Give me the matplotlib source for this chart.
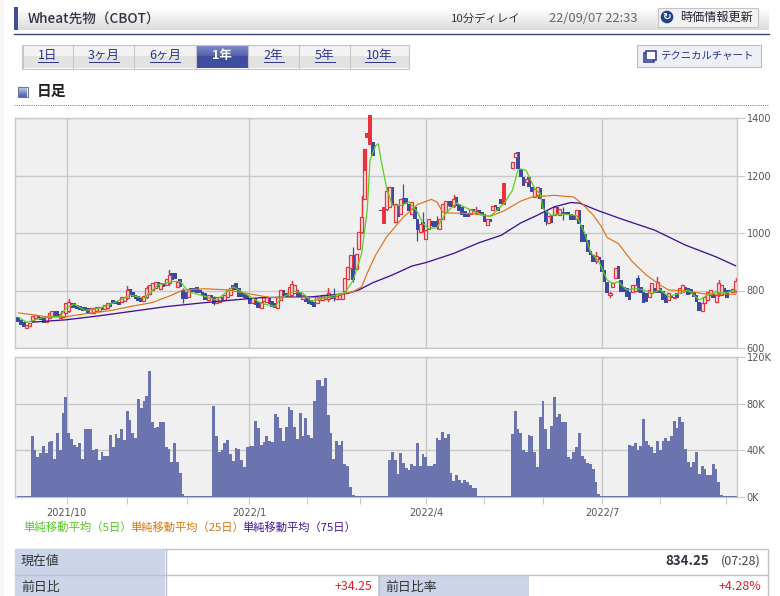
import numpy as np
import matplotlib
matplotlib.use('Agg')
import matplotlib.pyplot as plt
from matplotlib.patches import Rectangle, Circle
from matplotlib.colors import LinearSegmentedColormap

plt.rcParams['font.family'] = ['Noto Sans CJK JP', 'DejaVu Sans']

nan = float('nan')

##### candle data #####
opens = [707,698,692,669,677,695,704,712,707,704,
         689,706,712,727,727,706,709,721,730,758,
         756,750,746,744,741,738,721,723,727,730,
         744,735,738,756,767,765,761,761,765,773,
         804,796,784,781,776,765,779,788,802,807,
         831,804,825,819,825,860,862,813,839,802,
         796,776,807,807,811,802,796,790,767,784,
         776,756,761,776,767,779,784,819,825,807,
         796,790,784,773,756,773,761,738,762,761,
         773,763,755,738,767,801,790,782,784,790,
         801,796,772,778,773,767,761,755,767,767,
         772,770,786,786,772,772,772,800,841,878,
         922,876,945,1005,1118,1332,1305,1317,1200,nan,
         1079,1032,1085,1089,1159,1037,1095,1066,1121,1121,
         1101,1066,1089,1049,1003,1037,980,1014,1043,1043,
         1043,1014,1049,1072,1113,1113,1095,1124,1101,1089,
         1078,1066,1066,1084,1070,1081,1072,1066,1028,1049,
         1081,1098,1089,1118,1098,nan,nan,1225,1264,1281,
         1221,1194,1177,1194,1160,1125,1131,1156,1119,1079,
         1036,1064,1061,1090,1061,1073,1073,1073,1067,1061,
         1048,1079,1027,998,975,937,923,902,917,906,
         871,830,784,813,842,886,836,813,807,796,
         796,799,842,813,796,790,779,790,807,802,
         807,798,784,767,784,773,790,790,794,813,
         807,804,794,784,761,727,755,767,784,787,
         761,790,784,807,802,802,796,798]
closes = [692,680,672,680,686,712,715,700,698,686,
          712,721,727,709,707,719,730,756,761,738,
          738,735,732,730,727,719,738,738,742,742,
          732,750,756,744,753,753,750,779,779,802,
          784,779,769,765,761,781,807,819,827,831,
          813,827,813,839,854,836,839,831,813,769,
          769,804,796,796,790,790,781,767,784,773,
          753,776,779,765,784,802,807,802,802,779,
          776,773,769,753,773,750,738,761,778,778,
          752,744,738,778,801,778,778,813,821,819,
          778,775,786,759,752,749,744,778,778,784,
          784,790,772,770,782,784,790,845,881,924,
          835,928,1003,1057,1291,1349,1412,1268,1197,nan,
          1077,1089,1145,1159,1095,1101,1055,1118,1101,1101,
          1078,1107,1049,1009,1032,1009,1009,1047,1026,1020,
          1020,1049,1101,1113,1095,1089,1118,1095,1078,1061,
          1055,1055,1084,1072,1078,1070,1063,1037,1049,1037,
          1095,1090,1076,1101,1175,nan,nan,1246,1278,1223,
          1194,1165,1188,1160,1142,1154,1160,1119,1085,1038,
          1059,1036,1090,1064,1085,1067,1067,1061,1044,1044,
          1079,1033,969,969,934,923,900,920,906,865,
          830,790,792,827,879,840,796,796,779,767,
          819,819,802,790,755,761,802,825,790,831,
          790,767,755,790,773,779,775,807,819,794,
          784,787,779,761,727,755,779,796,802,775,
          784,825,819,796,773,794,805,834]
# only the wicks that are visible
wick_i  = [18,39,46,54,59,70,98,111,113,120,123,132,138,143,145,150,156,164,189,195,207,212,222,229,251,257]
wick_hi = [772,815,815,870,810,780,833,808,808,951,1130,1160,1170,1050,1072,1058,1132,1090,1080,1090,934,795,855,848,838,842]
wick_lo = [725,770,775,820,755,748,780,762,762,830,1000,1080,1098,971,1005,1015,1090,1065,1027,1044,895,778,795,795,782,796]
solid_red = [125,126,131,174]
# bar 124 is filled only in its upper part
fill_124 = [1215,1291]

##### moving averages (bar number, value) #####
ma5_x = [0,3,6,9,15,17,20,24,29,34,40,45,50,55,58,61,67,71,77,79,87,92,94,99,102,105,109,116,117,120,123,125,126,128,129,130,132,134,137,140,143,145,147,150,153,157,161,165,169,174,177,179,180,182,185,187,188,191,194,200,203,205,208,211,213,215,218,221,224,227,230,233,237,240,244,247,250,253,257]
ma5_y = [707,689,698,707,709,738,753,730,738,756,784,773,819,831,831,796,779,767,813,802,756,744,773,798,790,763,773,790,793,836,929,1079,1252,1304,1310,1252,1154,1096,1096,1108,1073,1033,1015,1019,1067,1104,1085,1067,1058,1102,1148,1218,1223,1217,1154,1137,1085,1061,1067,1061,998,934,900,836,825,830,802,807,802,790,802,779,790,802,767,784,796,790,802]
ma25_x = [0,5,11,17,24,33,41,48,55,59,67,75,82,90,102,113,116,120,123,125,128,132,138,143,148,150,152,154,163,169,174,180,184,192,199,202,206,209,211,215,220,225,230,233,239,246,257]
ma25_y = [722,716,707,709,719,730,746,758,784,802,806,802,790,776,776,775,788,796,813,860,923,987,1056,1099,1117,1108,1073,1070,1067,1058,1077,1111,1125,1131,1125,1102,1062,1021,984,963,900,854,819,802,799,788,787]
ma75_x = [5,17,29,41,53,65,77,87,105,118,122,127,134,141,146,156,165,173,180,186,192,198,201,208,216,228,239,250,257]
ma75_y = [690,698,712,728,744,756,767,775,778,790,802,827,854,885,897,929,966,992,1035,1062,1091,1106,1104,1077,1049,1010,958,917,886]

##### volume in thousands #####
volume = [.6,.6,.6,.6,.6,
          52,40,34,38,44,38,47,48,33,55,40,72,86,55,50,45,43,46,33,58,58,58,40,41,32,39,35,35,53,43,54,51,58,49,74,66,55,51,84,76,82,87,108,64,59,60,64,64,43,41,30,46,30,21,3,
          .6,.6,.6,.6,.6,.6,.6,.6,.6,.6,
          78,52,39,40,46,49,37,31,42,41,32,26,43,44,44,65,59,45,47,52,48,47,71,69,59,48,60,77,75,60,50,72,52,68,53,51,82,100,100,95,102,70,55,33,48,45,48,28,27,9,2,1,
          .6,.6,.6,.6,.6,.6,.6,.6,.6,.6,.6,
          32,39,32,20,38,29,25,23,28,27,46,27,37,34,27,27,28,51,49,56,51,54,21,14,19,15,12,15,13,10,8,8,
          .6,.6,.6,.6,.6,.6,.6,.6,.6,.6,.6,.6,
          54,74,58,55,40,39,53,52,39,26,69,82,58,41,61,86,69,71,64,64,34,33,39,43,55,35,33,29,28,24,13,3,
          .6,.6,.6,.6,.6,.6,.6,.6,.6,.6,
          45,44,46,40,44,67,48,45,43,38,48,40,48,51,48,52,65,59,69,64,41,30,26,30,39,20,27,24,19,19,28,24,13,2,
          1,1,1,1,1]

date_ticks = [17.3,82.8,146.1,209.2]
date_labels = ['2021/10','2022/1','2022/4','2022/7']
minor_ticks = [38.8,60.3,103.3,122.5,166.7,187.9,229.8,253.5]
price_ticks = [600,800,1000,1200,1400]
vol_ticks = [0,40,80,120]
vol_labels = ['0K','40K','80K','120K']

tabs = ['1日','3ヶ月','6ヶ月','1年','2年','5年','10年']
tab_edges = [22,73,134,196,248,299,350,409]

opens = np.array(opens, dtype=float)
closes = np.array(closes, dtype=float)
x = np.arange(len(opens))

W, H = 780, 596
fig = plt.figure(figsize=(W/100, H/100), dpi=100, facecolor='white')

# page furniture drawn in pixel coords
bg = fig.add_axes([0, 0, 1, 1])
bg.set_xlim(0, W)
bg.set_ylim(H, 0)
bg.axis('off')

def grad(x0, x1, y0, y1, c0, c1):
    cm = LinearSegmentedColormap.from_list('g', [c0, c1])
    bg.imshow(np.linspace(0, 1, 32).reshape(-1, 1), cmap=cm, extent=[x0, x1, y1, y0], aspect='auto', zorder=1)
    bg.set_xlim(0, W)
    bg.set_ylim(H, 0)

def box(x0, y0, x1, y1, fc='none', ec='none', lw=1, z=2):
    bg.add_patch(Rectangle((x0, y0), x1-x0, y1-y0, fc=fc, ec=ec, lw=lw, zorder=z))

box(0, 0, 4, H, fc='#f7f7f7', z=0)

# header
grad(18, 769, 8, 30, '#ffffff', '#dcdcdc')
box(14, 7, 18, 30, fc='#3f4d9e')
bg.plot([14, 769], [33.5, 33.5], color='#3b4674', lw=1, zorder=3)
bg.text(28, 20, 'Wheat先物（CBOT）', fontsize=9.8, color='#333344', va='center', fontweight='medium', zorder=4)
bg.text(451, 19, '10分ディレイ', fontsize=8.2, color='#333333', va='center', zorder=4)
bg.text(549, 19, '22/09/07 22:33', fontsize=9.3, color='#666666', va='center', zorder=4)
box(657.5, 7.5, 758, 27, fc='#f2f2f2', ec='#c4c4c4', lw=0.8, z=3)
bg.add_patch(Circle((667, 17), 6.3, fc='#23408e', ec='none', zorder=4))
bg.text(667, 16.6, '↻', fontsize=7.5, color='white', ha='center', va='center', family='DejaVu Sans', fontweight='bold', zorder=5)
bg.text(680, 17.5, '時価情報更新', fontsize=8.7, color='#222233', va='center', zorder=4)

# period tabs
for i, t in enumerate(tabs):
    x0, x1 = tab_edges[i], tab_edges[i+1]
    if t == '1年':
        grad(x0, x1, 45, 56, '#7f8cc8', '#5562ac')
        box(x0, 56, x1, 68, fc='#3f4d9e')
        bg.text((x0+x1)/2, 55, t, fontsize=9, color='white', ha='center', va='center', fontweight='bold', zorder=4)
    else:
        box(x0, 45, x1, 56, fc='#f2f2f2')
        box(x0, 56, x1, 68, fc='#e2e2e2')
        tx = bg.text((x0+x1)/2, 55, t, fontsize=9, color='#2b3390', ha='center', va='center', zorder=4)
        wd = 10*len(t) if t != '3ヶ月' and t != '6ヶ月' else 30
        bg.plot([(x0+x1)/2-wd/2, (x0+x1)/2+wd/2], [61.5, 61.5], color='#2b3390', lw=0.7, zorder=4)
    bg.plot([x0, x0], [44.5, 68.5], color='#c6c6c6', lw=0.8, zorder=3)
box(22.5, 44.5, 409, 68.5, ec='#c6c6c6', lw=0.8, z=3)

box(636.5, 44.5, 761, 66.5, fc='#eef0f7', ec='#bdbdbd', lw=0.8, z=3)
box(644, 53, 654, 62, fc='white', ec='#2b3390', lw=1.1, z=4)
box(646, 51, 656, 60, fc='white', ec='#2b3390', lw=1.1, z=4)
bg.text(660, 56, 'テクニカルチャート', fontsize=7.5, color='#2b3390', va='center', zorder=4)

# section title
grad(18, 27, 87, 97, '#ccd0e8', '#4c59a6')
box(17.5, 86.5, 27.5, 96.5, ec='#6a72a8', lw=0.8, z=3)
bg.text(37, 91, '日足', fontsize=10.6, color='#222222', va='center', fontweight='bold', zorder=4)
bg.plot([14, 769], [104.5, 104.5], color='#777777', lw=0.7, ls=(0, (1, 1.2)), zorder=3)

# legend line under the chart
bg.text(23, 527.5, '単純移動平均（5日）', fontsize=8.2, color='#55c81e', va='center', zorder=4)
bg.text(130, 527.5, '単純移動平均（25日）', fontsize=8.1, color='#d9730f', va='center', zorder=4)
bg.text(242, 527.5, '単純移動平均（75日）', fontsize=8.1, color='#43119a', va='center', zorder=4)

# table at the bottom
box(14.5, 548.5, 768, 600, fc='white', ec='#c2c2c2', lw=1, z=2)
box(15, 549, 165, 596, fc='#ccd4ea', z=3)
box(378, 575, 529, 596, fc='#ccd4ea', z=3)
bg.plot([15, 768], [574.5, 574.5], color='#c2c2c2', lw=1, zorder=4)
bg.plot([165.5, 165.5], [549, 596], color='#b8bdcc', lw=1, zorder=4)
bg.plot([378.5, 378.5], [575, 596], color='#c2c2c2', lw=1, zorder=4)
bg.text(21, 561, '現在値', fontsize=9.3, color='#333333', va='center', zorder=5)
bg.text(21, 587, '前日比', fontsize=9.3, color='#333333', va='center', zorder=5)
bg.text(385, 587, '前日比率', fontsize=9.3, color='#333333', va='center', zorder=5)
bg.text(709, 561, '834.25', fontsize=9.6, color='#333344', va='center', ha='right', fontweight='bold', zorder=5)
bg.text(761, 561, '(07:28)', fontsize=9, color='#444444', va='center', ha='right', zorder=5)
bg.text(372, 587, '+34.25', fontsize=8.9, color='#e0202a', va='center', ha='right', zorder=5)
bg.text(761, 587, '+4.28%', fontsize=9, color='#e0202a', va='center', ha='right', zorder=5)

# chart panels
L, R = 15, 737
def panel(top, bottom):
    ax = fig.add_axes([L/W, 1-bottom/H, (R-L)/W, (bottom-top)/H], facecolor='#f0f0f0')
    ax.set_xlim(-1.2, 257.5)
    for s in ax.spines.values():
        s.set_color('#c8c8c8')
        s.set_linewidth(1)
    ax.yaxis.tick_right()
    ax.set_axisbelow(True)
    ax.grid(True, color='#c8c8c8', lw=1)
    ax.tick_params(axis='y', length=6, width=0.8, color='#c8c8c8', labelsize=7, labelcolor='#555555', pad=1)
    return ax

ax = panel(118, 348)
ax.set_ylim(600, 1400)
ax.set_yticks(price_ticks)
ax.set_xticks(date_ticks)
ax.tick_params(axis='x', length=0, labelbottom=False)
for lab in ax.get_yticklabels():
    lab.set_family('DejaVu Sans')

up = closes > opens
dn = closes < opens
hollow = up.copy()
hollow[solid_red] = False
solid = np.zeros(len(x), dtype=bool)
solid[solid_red] = True
ax.vlines(wick_i, wick_lo, wick_hi, color='#3f4d9e', lw=0.9, zorder=2)
for i, a, b in zip(wick_i, wick_lo, wick_hi):
    if up[i]:
        ax.plot([i, i], [a, b], color='#e8323c', lw=0.9, zorder=2.1)
ax.bar(x[dn], (opens-closes)[dn], bottom=closes[dn], width=1.35, color='#3a49a2', lw=0, zorder=3)
ax.bar(x[hollow], (closes-opens)[hollow], bottom=opens[hollow], width=1.1, facecolor='#f4e6e6', edgecolor='#e8323c', lw=0.9, zorder=3)
ax.bar(x[solid], (closes-opens)[solid], bottom=opens[solid], width=1.45, color='#e8323c', lw=0, zorder=3, clip_on=False)
ax.bar([124], [fill_124[1]-fill_124[0]], bottom=fill_124[0], width=1.3, color='#e8323c', lw=0, zorder=3.1)

ax.plot(ma75_x, ma75_y, color='#43119a', lw=0.95, zorder=4)
ax.plot(ma25_x, ma25_y, color='#e0731a', lw=0.85, zorder=5)
ax.plot(ma5_x, ma5_y, color='#58d020', lw=0.9, zorder=6)

vx = panel(357, 497)
vx.set_ylim(0, 120)
vx.set_yticks(vol_ticks)
vx.set_yticklabels(vol_labels)
vx.bar(np.arange(len(volume)), volume, width=1.0, color='#6b74ae', lw=0, zorder=3)
vx.set_xticks(date_ticks + minor_ticks)
vx.set_xticklabels(date_labels + ['']*len(minor_ticks))
vx.tick_params(axis='x', length=5, width=0.8, color='#c8c8c8', labelsize=7, labelcolor='#555555', pad=3)
for lab in vx.get_xticklabels() + vx.get_yticklabels():
    lab.set_family('DejaVu Sans')
vx.xaxis.grid(False)
for d in date_ticks:
    vx.axvline(d, color='#c8c8c8', lw=1, zorder=1)

fig.savefig('out.png', dpi=100)
